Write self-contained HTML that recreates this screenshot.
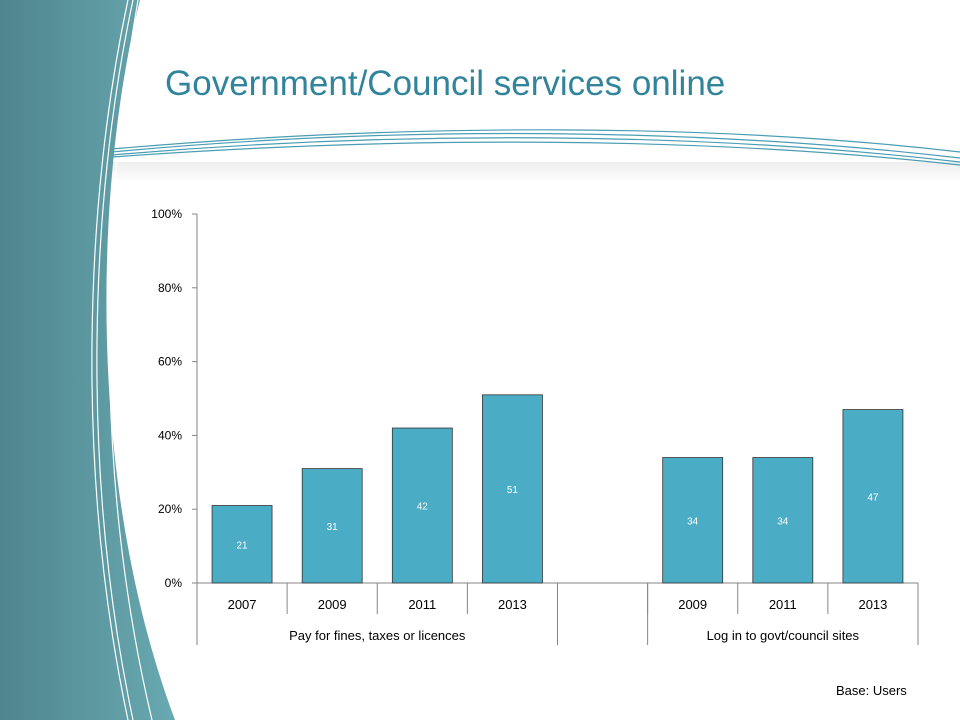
<!DOCTYPE html>
<html><head><meta charset="utf-8"><style>
html,body{margin:0;padding:0;background:#fff;}
#root{position:relative;width:960px;height:720px;overflow:hidden;font-family:"Liberation Sans",sans-serif;}
</style></head><body>
<div id="root">
<svg width="960" height="720" style="position:absolute;left:0;top:0">
<defs>
<linearGradient id="pg" x1="0" x2="1" y1="0" y2="0"><stop offset="0" stop-color="#4f858e"/><stop offset="1" stop-color="#69a9b1"/></linearGradient>
<linearGradient id="sh" x1="0" x2="0" y1="0" y2="1"><stop offset="0" stop-color="#eeeeee"/><stop offset="1" stop-color="#ffffff"/></linearGradient>
</defs>
<rect x="110" y="162" width="850" height="20" fill="url(#sh)"/>
<path d="M0,0 L140,0 C95,180 85,480 175,720 L0,720 Z" fill="url(#pg)"/>
<path d="M128,0 C85,200 75,470 128,720" fill="none" stroke="#fff" stroke-width="1.2"/>
<path d="M133,0 C90,200 80,470 133,720" fill="none" stroke="#fff" stroke-width="1.2"/>
<path d="M138,0 C100,220 95,480 152,720" fill="none" stroke="#fff" stroke-width="1.2"/>
<g fill="none" stroke="#4a9db3" stroke-width="1.2">
<path d="M112,152 C400,125 700,128 960,158"/>
<path d="M112,155 C400,130 700,132 960,162"/>
<path d="M112,149 C420,122 720,124 960,152"/>
<path d="M112,157 C400,136 700,136 960,165"/>
</g>
</svg>
<div style="position:absolute;left:165px;top:64px;font-size:35px;color:#31849b;white-space:nowrap">Government/Council services online</div>
<svg id="chart" width="960" height="720" style="position:absolute;left:0;top:0"></svg>
<div style="position:absolute;left:836px;top:683px;font-size:13px;color:#000">Base: Users</div>
</div>
<script>
const categories=["2007","2009","2011","2013","","2009","2011","2013"];
const values=[21,31,42,51,null,34,34,47];
const groups=["Pay for fines, taxes or licences","","Log in to govt/council sites"];
const groupSpans=[4,1,3];
const yTicks=[0,20,40,60,80,100];
const yTickLabels=["0%","20%","40%","60%","80%","100%"];
const NS="http://www.w3.org/2000/svg";
const svg=document.getElementById("chart");
const X0=197,X1=918,Y0=583,Y1=214;
const slot=(X1-X0)/categories.length;
const y=v=>Y0-(v/100)*(Y0-Y1);
const xc=i=>X0+slot*(i+0.5);
function mk(t,a){const e=document.createElementNS(NS,t);for(const k in a)e.setAttribute(k,a[k]);svg.appendChild(e);return e;}
const F='"Liberation Sans",sans-serif';
let ax=mk("line",{x1:X0,x2:X0,y1:Y1,y2:645,stroke:"#868686"});


let bx=mk("line",{x1:X0,x2:X1,y1:Y0,y2:Y0,stroke:"#868686"});


yTicks.forEach((t,i)=>{
 mk("line",{x1:X0-5,x2:X0,y1:y(t),y2:y(t),stroke:"#868686"});
 const tx=mk("text",{x:X0-15,y:y(t)+4,"text-anchor":"end","font-size":12,"font-family":F,fill:"#000"});
 tx.textContent=yTickLabels[i];
 
 
});
categories.forEach((c,i)=>{
 const v=values[i];
 if(v!==null){
  const r=mk("rect",{x:xc(i)-30,y:y(v),width:60,height:Y0-y(v),fill:"#4bacc6",stroke:"#333","stroke-width":0.8});
  
  
  const l=mk("text",{x:xc(i),y:(y(v)+Y0)/2+4,"text-anchor":"middle","font-size":10,"font-family":F,fill:"#fff"});
  l.textContent=v;
  
  
 }
 const ct=mk("text",{x:xc(i),y:609,"text-anchor":"middle","font-size":13,"font-family":F,fill:"#000"});
 ct.textContent=c;
 
 
 if(i>0) mk("line",{x1:X0+slot*i,x2:X0+slot*i,y1:Y0,y2:614,stroke:"#868686"});
});
let acc=0;
groups.forEach((g,i)=>{
 const s=X0+slot*acc;acc+=groupSpans[i];const e=X0+slot*acc;
 mk("line",{x1:e,x2:e,y1:Y0,y2:645,stroke:"#868686"});
 const gt=mk("text",{x:(s+e)/2,y:640,"text-anchor":"middle","font-size":13,"font-family":F,fill:"#000"});
 gt.textContent=g;
 
 
});
</script>
</body></html>
